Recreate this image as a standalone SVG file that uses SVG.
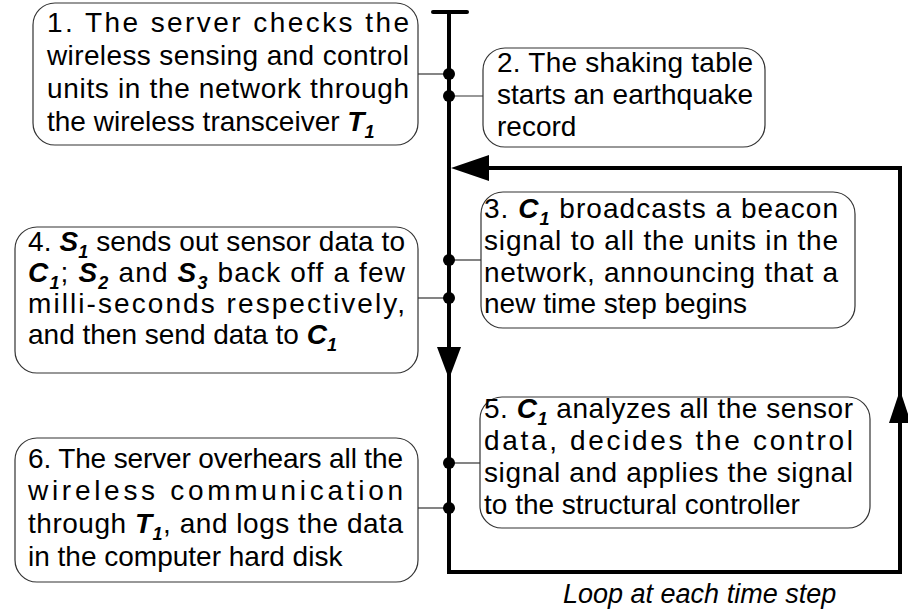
<svg xmlns="http://www.w3.org/2000/svg" width="908" height="610" viewBox="0 0 908 610">
<style>
.box{fill:#fff;stroke:#333;stroke-width:1.2}
.t{font-family:"Liberation Sans",Arial,sans-serif;font-size:28px;fill:#000}
.bi{font-weight:bold;font-style:italic}
.sub{font-size:18px;font-weight:bold;font-style:italic}
.conn{stroke:#333;stroke-width:1.2;fill:none}
.main{stroke:#000;stroke-width:4;fill:none}
.dot{fill:#000}
.loop{font-family:"Liberation Sans",Arial,sans-serif;font-size:27px;font-style:italic;fill:#000}
</style>
<rect width="908" height="610" fill="#fff"/>
<g id="connectors">
<line class="main" x1="433" y1="12" x2="467" y2="12" stroke-linecap="round"/>
<polyline class="main" points="449,12 449,572 900,572 900,168 470,168"/>
<polygon points="451,168 489,155 489,181" fill="#000"/>
<polygon points="449,379 437,347 461,347" fill="#000"/>
<polygon points="900,390 889,423 911,423" fill="#000"/>
<line class="conn" x1="418" y1="74" x2="449" y2="74"/>
<line class="conn" x1="449" y1="96" x2="483" y2="96"/>
<line class="conn" x1="449" y1="260" x2="481" y2="260"/>
<line class="conn" x1="418" y1="298" x2="449" y2="298"/>
<line class="conn" x1="449" y1="463" x2="480" y2="463"/>
<line class="conn" x1="418" y1="508" x2="449" y2="508"/>
<circle class="dot" cx="449" cy="74" r="6"/>
<circle class="dot" cx="449" cy="96" r="6"/>
<circle class="dot" cx="449" cy="260" r="6"/>
<circle class="dot" cx="449" cy="298" r="6"/>
<circle class="dot" cx="449" cy="463" r="6"/>
<circle class="dot" cx="449" cy="508" r="6"/>
</g>
<g id="n1">
<rect class="box" x="33" y="3" width="385" height="142" rx="22" ry="22"/>
<text class="t" x="47" y="32" textLength="362" lengthAdjust="spacing">1. The server checks the</text>
<text class="t" x="47" y="65" textLength="362" lengthAdjust="spacing">wireless sensing and control</text>
<text class="t" x="47" y="98" textLength="362" lengthAdjust="spacing">units in the network through</text>
<text class="t" x="47" y="131">the wireless transceiver <tspan class="bi">T</tspan><tspan class="sub" dy="7">1</tspan></text>
</g>
<g id="n2">
<rect class="box" x="483" y="48" width="282" height="99" rx="22" ry="22"/>
<text class="t" x="497" y="72" textLength="256" lengthAdjust="spacing">2. The shaking table</text>
<text class="t" x="497" y="104" textLength="256" lengthAdjust="spacing">starts an earthquake</text>
<text class="t" x="497" y="136">record</text>
</g>
<g id="n3">
<rect class="box" x="481" y="192" width="374" height="136" rx="22" ry="22"/>
<text class="t" x="484" y="218" textLength="354" lengthAdjust="spacing">3. <tspan class="bi">C</tspan><tspan class="sub" dy="7">1</tspan><tspan dy="-7"> broadcasts a beacon</tspan></text>
<text class="t" x="484" y="250" textLength="354" lengthAdjust="spacing">signal to all the units in the</text>
<text class="t" x="484" y="282" textLength="354" lengthAdjust="spacing">network, announcing that a</text>
<text class="t" x="484" y="313">new time step begins</text>
</g>
<g id="n4">
<rect class="box" x="15" y="227" width="403" height="146" rx="22" ry="22"/>
<text class="t" x="28" y="251" textLength="377" lengthAdjust="spacing">4. <tspan class="bi">S</tspan><tspan class="sub" dy="7">1</tspan><tspan dy="-7"> sends out sensor data to</tspan></text>
<text class="t" x="28" y="282" textLength="377" lengthAdjust="spacing"><tspan class="bi">C</tspan><tspan class="sub" dy="7">1</tspan><tspan dy="-7">; </tspan><tspan class="bi">S</tspan><tspan class="sub" dy="7">2</tspan><tspan dy="-7"> and </tspan><tspan class="bi">S</tspan><tspan class="sub" dy="7">3</tspan><tspan dy="-7"> back off a few</tspan></text>
<text class="t" x="28" y="313" textLength="377" lengthAdjust="spacing">milli-seconds  respectively,</text>
<text class="t" x="28" y="344">and then send data to <tspan class="bi">C</tspan><tspan class="sub" dy="7">1</tspan></text>
</g>
<g id="n5">
<rect class="box" x="480" y="397" width="390" height="131" rx="22" ry="22"/>
<text class="t" x="484" y="418" textLength="369" lengthAdjust="spacing">5. <tspan class="bi">C</tspan><tspan class="sub" dy="7">1</tspan><tspan dy="-7"> analyzes all the sensor</tspan></text>
<text class="t" x="484" y="450" textLength="369" lengthAdjust="spacing">data, decides the control</text>
<text class="t" x="484" y="482" textLength="369" lengthAdjust="spacing">signal and applies the signal</text>
<text class="t" x="484" y="514">to the structural controller</text>
</g>
<g id="n6">
<rect class="box" x="15" y="438" width="403" height="144" rx="22" ry="22"/>
<text class="t" x="28" y="468" textLength="375" lengthAdjust="spacing">6. The server overhears all the</text>
<text class="t" x="28" y="500" textLength="375" lengthAdjust="spacing">wireless communication</text>
<text class="t" x="28" y="533" textLength="375" lengthAdjust="spacing">through <tspan class="bi">T</tspan><tspan class="sub" dy="7">1</tspan><tspan dy="-7">, and logs the data</tspan></text>
<text class="t" x="28" y="566">in the computer hard disk</text>
</g>
<text class="loop" x="563" y="603">Loop at each time step</text>
</svg>
